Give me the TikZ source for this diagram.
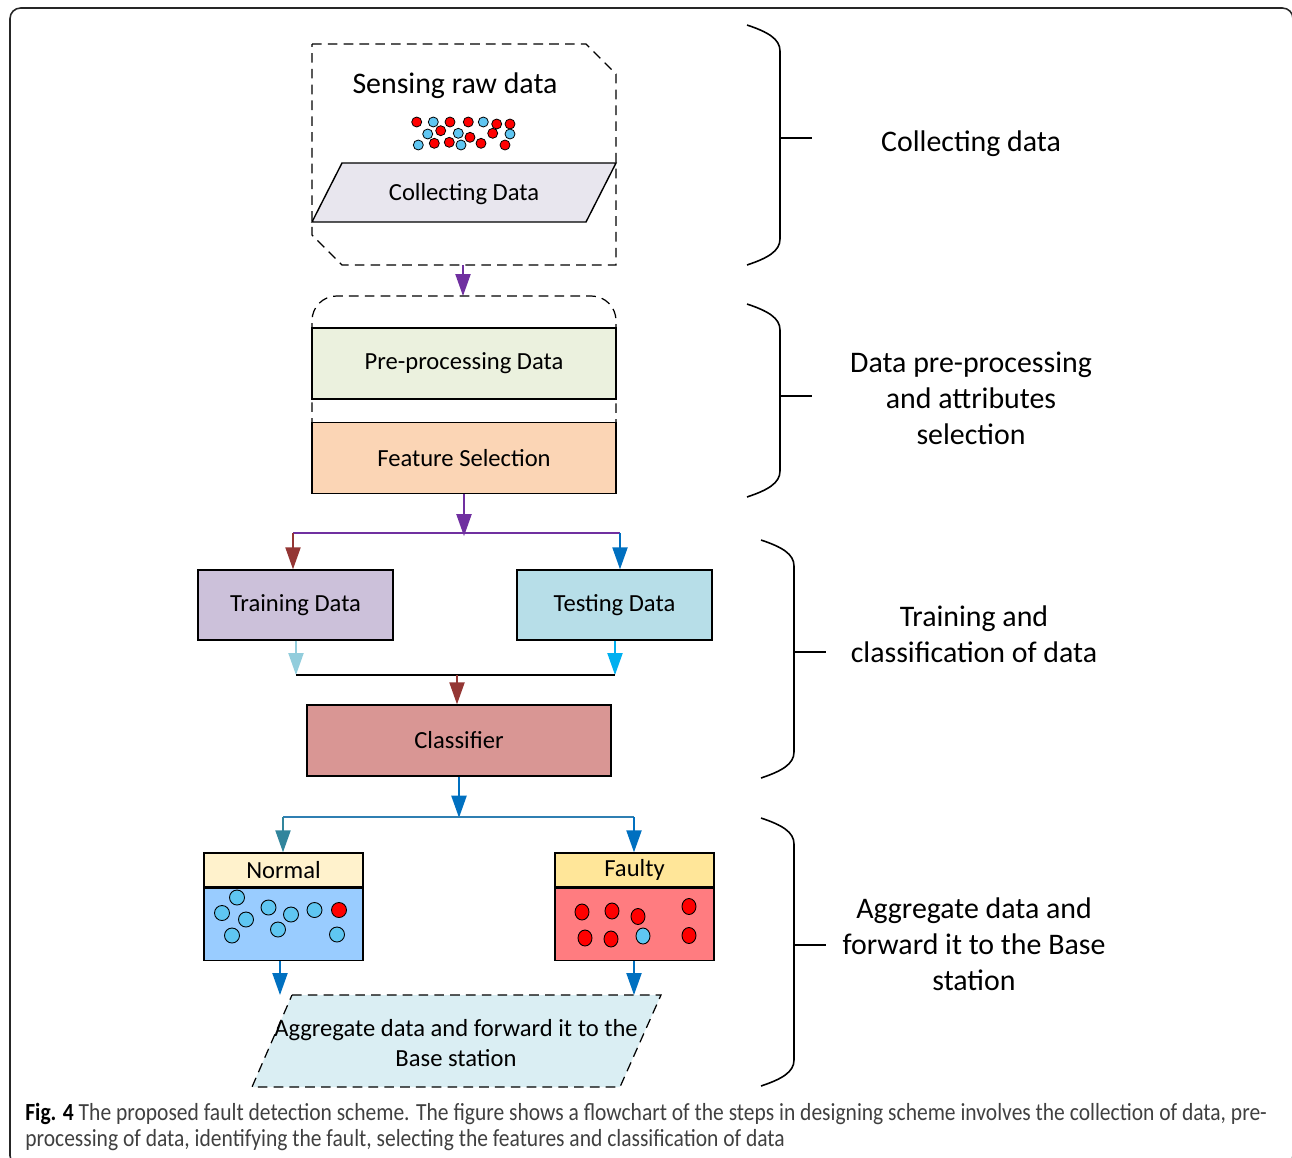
\documentclass[tikz,border=0pt]{standalone}
\usepackage{fontspec}
\setmainfont{Carlito}
\newfontfamily\capfont[FakeStretch=0.875]{Carlito}
\usetikzlibrary{arrows.meta,positioning}
\definecolor{purp}{HTML}{7030A0}
\definecolor{brn}{HTML}{943634}
\definecolor{blu}{HTML}{0070C0}
\definecolor{ltblu}{HTML}{92CDDC}
\definecolor{cyn}{HTML}{00B0F0}
\definecolor{tealb}{HTML}{31859C}
\definecolor{stlb}{HTML}{2F7FB2}
\definecolor{collfill}{HTML}{E8E6EE}
\definecolor{prefill}{HTML}{EBF1DE}
\definecolor{featfill}{HTML}{FBD5B5}
\definecolor{trainfill}{HTML}{CCC1DA}
\definecolor{testfill}{HTML}{B7DEE8}
\definecolor{clffill}{HTML}{D99694}
\definecolor{normhd}{HTML}{FFF2CC}
\definecolor{normbd}{HTML}{99CCFF}
\definecolor{faulhd}{HTML}{FFE699}
\definecolor{faulbd}{HTML}{FF7C80}
\definecolor{aggfill}{HTML}{DAEEF3}
\definecolor{dotred}{HTML}{FF0000}
\definecolor{dotblu}{HTML}{5FC6F2}
\definecolor{capgray}{HTML}{404040}
\tikzset{>={Triangle[width=8.6pt,length=12.5pt]}}
\tikzset{
  box/.style={draw=black,line width=0.8pt,minimum width=6.08cm,minimum height=1.42cm,
    inner sep=0pt,font=\fontsize{14}{17}\selectfont},
  smallbox/.style={box,minimum width=3.9cm,minimum height=1.4cm},
  hdr/.style={box,minimum width=3.18cm,minimum height=0.68cm},
  pan/.style={box,minimum width=3.18cm,minimum height=1.44cm},
  grp/.style={line width=0.7pt,dash pattern=on 5.5pt off 3.5pt},
  flow/.style={line width=1pt},
  brace/.style={line width=0.9pt},
  side/.style={align=center,font=\fontsize{17}{20.4}\selectfont}
}
\newcommand*{\bead}[2]{\filldraw[fill=#1,draw=black,line width=0.45pt] (#2) circle (5)}
\newcommand*{\ball}[2]{\filldraw[fill=#1,draw=black,line width=0.5pt] (#2) circle [x radius=7.5,y radius=7.5]}
\newcommand*{\egg}[2]{\filldraw[fill=#1,draw=black,line width=0.5pt] (#2) circle [x radius=7,y radius=8]}
\newcommand*{\sidebrace}[4]{%
  \draw[brace] (#1-33,#2) .. controls (#1-12,#2+7) and (#1,#2+14) .. (#1,#2+26)
    -- (#1,#3-26) .. controls (#1,#3-14) and (#1-12,#3-7) .. (#1-33,#3);
  \draw[brace] (#1,#4) -- (#1+32,#4)}

\begin{document}
\begin{tikzpicture}[x=0.02cm,y=-0.02cm]
\useasboundingbox (0,0) rectangle (1292,1157);
\draw[line width=0.9pt,draw=black!85,rounded corners=6pt] (10,8) rectangle (1293,1166);

\draw[grp] (312,44) -- (586,44) -- (616,74) -- (616,265) -- (342,265) -- (312,235) -- cycle;
\node[font=\fontsize{17}{20}\selectfont] (sense) at (455,85.5) {Sensing raw data};
\bead{dotred}{416.7,122}; \bead{dotblu}{433.3,122}; \bead{dotred}{450,122};
\bead{dotred}{468.3,122}; \bead{dotblu}{483.3,122}; \bead{dotred}{496.7,124};
\bead{dotred}{510,124};
\bead{dotblu}{427.7,134}; \bead{dotred}{440.7,130.7}; \bead{dotblu}{458.3,133.3};
\bead{dotred}{470,137.3}; \bead{dotred}{492.7,133.3}; \bead{dotblu}{510,134};
\bead{dotblu}{418.3,145}; \bead{dotred}{434.3,143.3}; \bead{dotred}{449.3,142.3};
\bead{dotblu}{461,145}; \bead{dotred}{481,143.3}; \bead{dotred}{505,145};
\filldraw[fill=collfill,draw=black,line width=0.8pt] (342,163) -- (616,163) -- (586,222) -- (312,222) -- cycle;
\node[font=\fontsize{14}{17}\selectfont] (collect) at (464,194) {Collecting Data};

\coordinate (g1) at (463,265);
\coordinate (g2) at (463,296);
\draw[flow,purp,->] (g1) -- (g2);

\draw[grp,rounded corners=14pt] (312,491) -- (312,296) -- (616,296) -- (616,491);
\node[box,fill=prefill] (pre) at (464,363.5) {Pre-processing Data};
\node[box,fill=featfill,below=0.44cm of pre] (feat) {Feature Selection};

\node[smallbox,fill=trainfill] (train) at (295.5,605) {Training Data};
\node[smallbox,fill=testfill] (test) at (614.5,605) {Testing Data};
\path (feat.south) ++(0,42) coordinate (s1);
\coordinate (s1l) at (293,533);
\coordinate (s1r) at (620,533);
\draw[flow,purp,->] (feat.south) -- (s1);
\draw[flow,purp] (s1l) -- (s1r);
\draw[flow,brn,->] (s1l) -- (s1l |- train.north);
\draw[flow,blu,->] (s1r) -- (s1r |- test.north);

\node[box,fill=clffill] (clf) at (459,740.5) {Classifier};
\coordinate (j2l) at (296,675);
\coordinate (j2r) at (615,675);
\coordinate (j2) at (457,675);
\draw[flow,ltblu,->] (j2l |- train.south) -- (j2l);
\draw[flow,cyn,->] (j2r |- test.south) -- (j2r);
\draw[flow,black] (j2l) -- (j2r);
\draw[flow,brn,->] (j2) -- (j2 |- clf.north);

\node[hdr,fill=normhd] (norm) at (283.5,870) {Normal};
\node[pan,fill=normbd,below=0pt of norm] (normb) {};
\node[hdr,fill=faulhd] (faul) at (634.5,870) {Faulty};
\node[pan,fill=faulbd,below=0pt of faul] (faulb) {};
\path (clf.south) ++(0,41) coordinate (s3);
\coordinate (s3l) at (283,817);
\coordinate (s3r) at (634,817);
\draw[flow,blu,->] (clf.south) -- (s3);
\draw[flow,stlb] (s3l) -- (s3r);
\draw[flow,tealb,->] (s3l) -- (s3l |- norm.north);
\draw[flow,blu,->] (s3r) -- (s3r |- faul.north);

\ball{dotblu}{237,897.5}; \ball{dotblu}{222,913}; \ball{dotblu}{246,919.5};
\ball{dotblu}{232,935.5}; \ball{dotblu}{268.5,907.5}; \ball{dotblu}{291,914.5};
\ball{dotblu}{278,929.5}; \ball{dotblu}{314.5,910}; \ball{dotred}{339,910};
\ball{dotblu}{337,934.5};
\egg{dotred}{582,912}; \egg{dotred}{612,911}; \egg{dotred}{638,916.5};
\egg{dotred}{689,906.5}; \egg{dotred}{585,938}; \egg{dotred}{611,939};
\egg{dotblu}{643,936}; \egg{dotred}{689,935.5};

\filldraw[grp,fill=aggfill] (292,995) -- (661,995) -- (620,1087) -- (252,1087) -- cycle;
\node[align=center,font=\fontsize{14}{17}\selectfont] (agg) at (456,1043) {Aggregate data and forward it to the\\Base station};
\coordinate (a1) at (280,995);
\coordinate (a2) at (634,995);
\draw[flow,blu,->] (a1 |- normb.south) -- (a1);
\draw[flow,blu,->] (a2 |- faulb.south) -- (a2);

\sidebrace{780}{25}{265}{138};
\sidebrace{780}{304}{497}{396};
\sidebrace{794}{540}{778}{652};
\sidebrace{794}{818}{1086}{945};
\node[side] (lab1) at (971,144) {Collecting data};
\node[side] (lab2) at (971,398) {Data pre-processing\\and attributes\\selection};
\node[side] (lab3) at (974,634) {Training and\\classification of data};
\node[side] (lab4) at (974,944) {Aggregate data and\\forward it to the Base\\station};

\node[anchor=base west,inner sep=0pt,font=\capfont\fontsize{14}{16}\selectfont,text=capgray] (cap1) at (25,1120)
  {\textcolor{black}{\textbf{Fig. 4}} The proposed fault detection scheme. The figure shows a flowchart of the steps in designing scheme involves the collection of data, pre-};
\node[anchor=base west,inner sep=0pt,font=\capfont\fontsize{14}{16}\selectfont,text=capgray] (cap2) at (25,1146)
  {processing of data, identifying the fault, selecting the features and classification of data};
\end{tikzpicture}
\end{document}
